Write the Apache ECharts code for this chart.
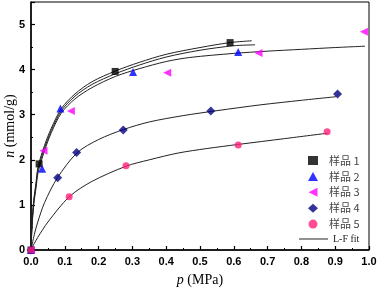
<!DOCTYPE html>
<html><head><meta charset="utf-8">
<script src="https://cdn.jsdelivr.net/npm/echarts@6/dist/echarts.min.js"></script>
<style>html,body{margin:0;padding:0;background:#fff}#c{width:378px;height:289px}</style>
</head><body><div id="c"></div>
<script>
// Measured data (p in MPa, n in mmol/g)
var s1P = [0, 0.024, 0.249, 0.589];
var s1N = [0, 1.91, 3.96, 4.60];
var s2P = [0, 0.033, 0.087, 0.302, 0.613];
var s2N = [0, 1.80, 3.14, 3.95, 4.39];
var s3P = [0, 0.037, 0.118, 0.403, 0.673, 0.985];
var s3N = [0, 2.20, 3.08, 3.93, 4.37, 4.84];
var s4P = [0, 0.079, 0.135, 0.273, 0.532, 0.907];
var s4N = [0, 1.60, 2.16, 2.66, 3.08, 3.46];
var s5P = [0, 0.113, 0.281, 0.613, 0.876];
var s5N = [0, 1.18, 1.87, 2.33, 2.62];

// Fit curves
var f1P = [0, 0.003, 0.008, 0.015, 0.021, 0.04, 0.06, 0.09, 0.13, 0.18, 0.25, 0.32, 0.40, 0.50, 0.589, 0.653];
var f1N = [0, 0.6, 1.1, 1.5, 1.85, 2.32, 2.7, 3.14, 3.46, 3.73, 3.97, 4.16, 4.34, 4.49, 4.60, 4.64];
var f2P = [0, 0.003, 0.008, 0.015, 0.021, 0.04, 0.06, 0.09, 0.13, 0.18, 0.25, 0.32, 0.40, 0.50, 0.60, 0.663];
var f2N = [0, 0.55, 1.05, 1.45, 1.8, 2.26, 2.65, 3.09, 3.41, 3.67, 3.91, 4.10, 4.28, 4.43, 4.53, 4.55];
var f3P = [0, 0.003, 0.008, 0.015, 0.021, 0.04, 0.06, 0.09, 0.13, 0.18, 0.25, 0.32, 0.40, 0.47, 0.60, 0.70, 0.80, 0.90, 0.988];
var f3N = [0, 0.5, 1.0, 1.38, 1.72, 2.2, 2.6, 3.04, 3.35, 3.6, 3.85, 4.02, 4.18, 4.27, 4.36, 4.41, 4.45, 4.49, 4.52];
var f4P = [0, 0.01, 0.02, 0.04, 0.078, 0.137, 0.20, 0.273, 0.35, 0.45, 0.55, 0.68, 0.80, 0.903];
var f4N = [0, 0.35, 0.62, 1.05, 1.60, 2.16, 2.45, 2.67, 2.84, 2.98, 3.09, 3.22, 3.32, 3.40];
var f5P = [0, 0.01, 0.02, 0.05, 0.113, 0.18, 0.282, 0.35, 0.435, 0.52, 0.612, 0.75, 0.877];
var f5N = [0, 0.15, 0.28, 0.62, 1.18, 1.52, 1.86, 2.0, 2.15, 2.25, 2.34, 2.47, 2.59];

var xTicks = ['0.0','0.1','0.2','0.3','0.4','0.5','0.6','0.7','0.8','0.9','1.0'];
var legendNames = ['样品 1','样品 2','样品 3','样品 4','样品 5'];
var fitName = 'L-F fit';

function pairs(a, b){ return a.map(function(v,i){ return [v, b[i]]; }); }

var chart = echarts.init(document.getElementById('c'), null, {renderer:'canvas'});
var lblFont = {fontFamily:'Liberation Sans, Arial', fontWeight:'bold', fontSize:11, color:'#000'};
function fitSeries(p, n){
  return {name: fitName, type:'line', data: pairs(p, n), symbol:'none', smooth:0.3,
    itemStyle:{color:'#222'}, lineStyle:{color:'#222', width:1}, z:1, silent:true, animation:false};
}
function scat(name, p, n, sym, color, size, rot){
  return {name:name, type:'scatter', data: pairs(p, n), symbol:sym, symbolSize:size,
    symbolRotate: rot||0, itemStyle:{color:color}, z:3, animation:false, clip:false};
}
var nameStyle = {fontFamily:'Liberation Serif, Times New Roman', fontSize:14, color:'#000',
  rich:{i:{fontFamily:'Liberation Serif', fontStyle:'italic', fontSize:14, color:'#000'}}};
chart.setOption({
  animation:false,
  grid:{left:31, right:9, top:2, bottom:39, containLabel:false, outerBoundsMode:'none',
    show:true, borderColor:'#000', borderWidth:1, backgroundColor:'transparent'},
  xAxis:{type:'value', min:0, max:1, interval:0.1,
    name:'{i|p} (MPa)', nameLocation:'middle', nameGap:23, nameMoveOverlap:false, nameTextStyle:nameStyle,
    axisLine:{lineStyle:{color:'#000', width:1.5}},
    axisTick:{inside:true, length:4, lineStyle:{color:'#000', width:1.2}},
    minorTick:{show:true, splitNumber:2, length:2, lineStyle:{color:'#000', width:1}},
    splitLine:{show:false},
    axisLabel:Object.assign({margin:6, formatter:function(v){ return xTicks[Math.round(v*10)]; }}, lblFont)
  },
  yAxis:{type:'value', min:0, max:5.5, interval:1,
    name:'{i|n} (mmol/g)', nameLocation:'middle', nameGap:14, nameRotate:90, nameMoveOverlap:false, nameTextStyle:nameStyle,
    axisLine:{lineStyle:{color:'#000', width:1.5}},
    axisTick:{inside:true, length:4, lineStyle:{color:'#000', width:1.2}},
    minorTick:{show:true, splitNumber:2, length:2, lineStyle:{color:'#000', width:1}},
    splitLine:{show:false},
    axisLabel:Object.assign({margin:6, showMaxLabel:false}, lblFont)
  },
  legend:[
    {data:[
        {name:legendNames[0]}, {name:legendNames[1]},
        {name:legendNames[2], icon:'path://M0,5 L10,0 L10,10 Z'},
        {name:legendNames[3]}, {name:legendNames[4]}],
      orient:'vertical', left:303, top:150, itemWidth:10, itemHeight:9, itemGap:4.9,
      textStyle:{fontFamily:'Noto Sans CJK SC', fontSize:11, color:'#444', padding:[0,0,0,6]},
      selectedMode:false},
    {data:[{name:fitName, icon:'rect'}], orient:'vertical', left:294, top:229, itemWidth:29, itemHeight:1,
      textStyle:{fontFamily:'Liberation Serif', fontSize:10, color:'#222'}, selectedMode:false}
  ],
  series:[
    fitSeries(f1P, f1N), fitSeries(f2P, f2N), fitSeries(f3P, f3N), fitSeries(f4P, f4N), fitSeries(f5P, f5N),
    scat(legendNames[0], s1P, s1N, 'rect', '#000000', 7),
    scat(legendNames[1], s2P, s2N, 'triangle', '#0000ff', 8),
    scat(legendNames[2], s3P, s3N, 'triangle', '#ff00ff', 8, 90),
    scat(legendNames[3], s4P, s4N, 'diamond', '#000080', 9),
    scat(legendNames[4], s5P, s5N, 'circle', '#ff1f7a', 7)
  ]
});
</script></body></html>
